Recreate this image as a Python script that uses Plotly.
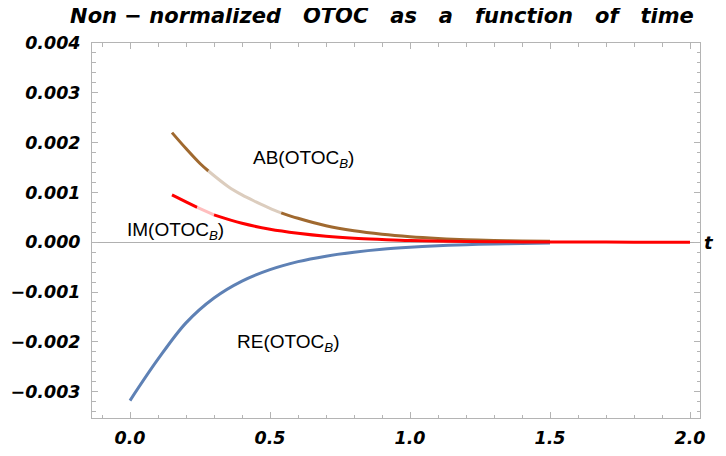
import plotly.graph_objects as go

# ---- data ----
t_re = [0.0, 0.1, 0.2, 0.3, 0.4, 0.5, 0.6, 0.7, 0.8, 0.9, 1.0, 1.1, 1.2, 1.3, 1.4, 1.5]
re_vals = [-0.00318, -0.00235, -0.00162, -0.00112, -0.00078, -0.00055, -0.00039, -0.00028,
           -0.00020, -0.00014, -0.00010, -0.00007, -0.00005, -0.000035, -0.000025, -0.000018]

t_ab = [0.15, 0.2, 0.25, 0.28, 0.35, 0.4, 0.45, 0.5, 0.54, 0.6, 0.7, 0.8, 0.9, 1.0, 1.1, 1.2, 1.3, 1.4, 1.5]
ab_vals = [0.00220, 0.00188, 0.00158, 0.00143, 0.00112, 0.00095, 0.00081, 0.00068, 0.00059, 0.00048,
           0.00033, 0.00023, 0.00016, 0.00011, 0.000075, 0.00005, 0.000035, 0.000025, 0.000018]

t_im = [0.15, 0.2, 0.24, 0.3, 0.4, 0.5, 0.6, 0.7, 0.8, 0.9, 1.0, 1.2, 1.4, 1.6, 1.8, 2.0]
im_vals = [0.00095, 0.00081, 0.00070, 0.00055, 0.00038, 0.00026, 0.00018, 0.00012, 0.00008,
           0.000055, 0.000035, 0.000015, 0.000006, 0.000003, 0.000001, 0.0]

x_ticks = [0.0, 0.5, 1.0, 1.5, 2.0]
y_ticks = [0.004, 0.003, 0.002, 0.001, 0.0, -0.001, -0.002, -0.003]

title_text = "Non-normalized OTOC as a function of time"
labels = ["AB(OTOC<sub><i>B</i></sub>)", "IM(OTOC<sub><i>B</i></sub>)", "RE(OTOC<sub><i>B</i></sub>)"]

# ---- styles ----
BLUE = "#5E81B5"
BROWN = "#A0692F"
BEIGE = "#DCCDBE"
RED = "#FF0000"
PINK = "#FFBEBE"
FRAME = "#B4B4B4"

fig = go.Figure()


def add_segments(ts, vs, bounds, colors):
    for (a, b), c in zip(bounds, colors):
        fig.add_trace(go.Scatter(x=ts[a:b + 1], y=vs[a:b + 1], mode="lines",
                                 line=dict(color=c, width=3, shape="spline", smoothing=1.0),
                                 hoverinfo="skip", showlegend=False))


add_segments(t_ab, ab_vals, [(0, 3), (3, 8), (8, len(t_ab) - 1)], [BROWN, BEIGE, BROWN])
add_segments(t_re, re_vals, [(0, len(t_re) - 1)], [BLUE])
add_segments(t_im, im_vals, [(0, 2), (2, 3), (3, len(t_im) - 1)], [RED, PINK, RED])

tickfont = dict(family="DejaVu Sans", size=17.5, color="black", weight="bold", style="italic")

gap = "\u00a0\u00a0\u00a0"
fig.update_layout(
    width=718, height=440,
    margin=dict(l=84, r=26, t=35, b=30),
    paper_bgcolor="white", plot_bgcolor="white",
    title=dict(text=title_text.replace(" ", gap).replace("-", "\u00a0\u2212\u00a0"),
               x=(382 - 8) / 718, xanchor="center", y=1 - (8 / 440), yanchor="middle",
               font=dict(family="DejaVu Sans", size=21, color="black", weight="bold", style="italic")),
    xaxis=dict(range=[-0.1357, 2.0357], tickvals=x_ticks, ticktext=[f"{v:.1f}" for v in x_ticks],
               automargin=False,
               showgrid=False, zeroline=False, showline=True, linecolor=FRAME, linewidth=1,
               mirror="ticks", ticks="inside", ticklen=6, tickcolor=FRAME, tickfont=tickfont,
               ticklabelstandoff=4,
               minor=dict(dtick=0.1, tick0=0, ticks="inside", ticklen=3.5, tickcolor=FRAME, showgrid=False)),
    yaxis=dict(range=[-0.00353, 0.0040], tickvals=y_ticks,
               ticktext=[("\u2212" if v < 0 else "") + f"{abs(v):.3f}" for v in y_ticks],
               automargin=False,
               showgrid=False, zeroline=True, zerolinecolor="#B0B0B0", zerolinewidth=1,
               showline=True, linecolor=FRAME, linewidth=1,
               mirror="ticks", ticks="inside", ticklen=6, tickcolor=FRAME, tickfont=tickfont,
               ticklabelstandoff=7,
               minor=dict(dtick=0.0002, tick0=0, ticks="inside", ticklen=3.5, tickcolor=FRAME, showgrid=False)),
)

lab_font = dict(family="Liberation Sans", size=19, color="black")
fig.add_annotation(x=(303 - 130) / 280, y=(242 - 159) / 49.8 * 0.001, text=labels[0], showarrow=False, font=lab_font)
fig.add_annotation(x=(175 - 130) / 280, y=(242 - 231) / 49.8 * 0.001, text=labels[1], showarrow=False, font=lab_font)
fig.add_annotation(x=(288 - 130) / 280, y=(242 - 343) / 49.8 * 0.001, text=labels[2], showarrow=False, font=lab_font)
fig.add_annotation(xref="paper", yref="y", x=1.0, xanchor="right", xshift=16, y=0.0, text="t", showarrow=False,
                   font=dict(family="DejaVu Sans", size=18, color="black", weight="bold", style="italic"))

fig.write_html("out.html")
